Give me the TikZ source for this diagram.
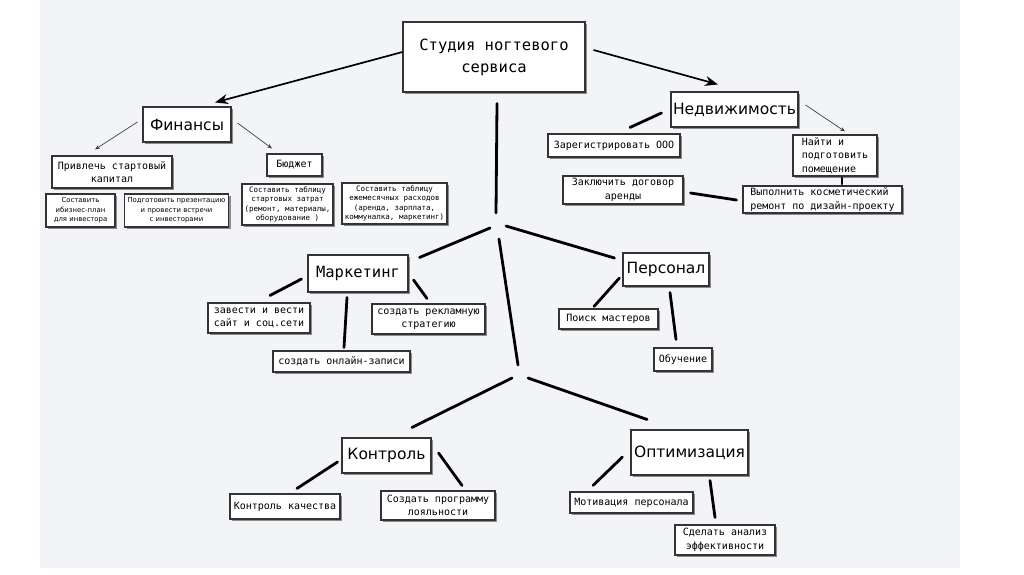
\documentclass[tikz,border=0pt]{standalone}
\usepackage{fontspec}
\setmainfont{DejaVu Sans}
\newfontfamily\monofam{DejaVu Sans Mono}
\usetikzlibrary{arrows.meta,shadows}
\definecolor{panel}{HTML}{F3F4F7}
\tikzset{
  box/.style={draw=black!80, line width=1.1pt, fill=white, inner sep=0pt, align=center,
    drop shadow={shadow xshift=2pt, shadow yshift=-2pt, fill=black!45, opacity=1}},
  hdr/.style={font=\fontsize{15.5}{18}\selectfont},
  hdrm/.style={font=\monofam\fontsize{15.5}{22}\selectfont},
  med/.style={font=\monofam\fontsize{10}{13.5}\selectfont},
  sml/.style={font=\fontsize{6.9}{9.4}\selectfont},
  smm/.style={font=\monofam\fontsize{7.5}{9.3}\selectfont},
  thk/.style={line width=2.8pt, black, line cap=round},
  bigarr/.style={line width=1.7pt, black, -{Stealth[length=13pt,width=10pt]}},
  thinarr/.style={line width=0.7pt, black!75, -{Stealth[length=5pt,width=4pt]}}
}
\begin{document}
\begin{tikzpicture}[x=1pt,y=-1pt]
\useasboundingbox (0,0) rectangle (1024,574);
\fill[white] (0,0) rectangle (1024,574);
\fill[panel] (40,0) rectangle (960,568);

% top
\node[box,hdrm,minimum width=182pt,minimum height=70pt] (studio) at (494,57) {Студия ногтевого\\сервиса};

% finances
\node[box,hdr,minimum width=88pt,minimum height=35pt] (fin) at (187,124.5) {Финансы};
\node[box,med,minimum width=120pt,minimum height=32pt] (kap) at (112,172) {Привлечь стартовый\\капитал};
\node[box,sml,minimum width=69pt,minimum height=33pt] (biz) at (80.5,210.5) {Составить\\ибизнес-план\\для инвестора};
\node[box,sml,minimum width=104pt,minimum height=33pt] (prez) at (176.5,210.5) {Подготовить презентацию\\и провести встречи\\с инвесторами};
\node[box,med,minimum width=55pt,minimum height=22pt] (bud) at (294.5,165) {Бюджет};
\node[box,smm,minimum width=91pt,minimum height=41pt] (zat) at (287.5,204.5) {Составить таблицу\\стартовых затрат\\(ремонт, материалы,\\оборудование )};
\node[box,smm,minimum width=105pt,minimum height=41pt] (mes) at (394.5,203.5) {Составить таблицу\\ежемесячных расходов\\(аренда, зарплата,\\коммуналка, маркетинг)};

% real estate
\node[box,hdr,minimum width=127pt,minimum height=35pt] (ned) at (734.5,109.5) {Недвижимость};
\node[box,med,minimum width=132pt,minimum height=23pt] (ooo) at (614,145.5) {Зарегистрировать ООО};
\node[box,med,minimum width=84pt,minimum height=41pt,align=left] (naiti) at (835,155.5) {Найти и\\подготовить\\помещение};
\node[box,med,minimum width=120pt,minimum height=28pt] (dog) at (623,190) {Заключить договор\\аренды};
\node[box,med,minimum width=159pt,minimum height=27pt,align=left] (rem) at (822.5,199.5) {Выполнить косметический\\ремонт по дизайн-проекту};

% marketing
\node[box,hdrm,minimum width=100pt,minimum height=37pt] (mark) at (358,273.5) {Маркетинг};
\node[box,med,minimum width=102pt,minimum height=30pt,align=left] (sait) at (259,318) {завести и вести\\сайт и соц.сети};
\node[box,med,minimum width=137pt,minimum height=21pt] (onl) at (341.5,361.5) {создать онлайн-записи};
\node[box,med,minimum width=113pt,minimum height=30pt] (rekl) at (428.5,319) {создать рекламную\\стратегию};

% personnel
\node[box,hdr,minimum width=86pt,minimum height=33pt] (pers) at (666,269.5) {Персонал};
\node[box,med,minimum width=99pt,minimum height=20pt] (poisk) at (608.5,319) {Поиск мастеров};
\node[box,med,minimum width=58pt,minimum height=23pt] (obuch) at (683,359.5) {Обучение};

% control
\node[box,hdr,minimum width=89pt,minimum height=35pt] (kontr) at (386.5,455.5) {Контроль};
\node[box,med,minimum width=110pt,minimum height=25pt] (kach) at (285,506.5) {Контроль качества};
\node[box,med,minimum width=114pt,minimum height=29pt] (loyal) at (438,505.5) {Создать программу\\лояльности};

% optimization
\node[box,hdr,minimum width=117pt,minimum height=45pt] (opt) at (689.5,452.5) {Оптимизация};
\node[box,med,minimum width=123pt,minimum height=21pt] (motiv) at (631.5,502.5) {Мотивация персонала};
\node[box,med,minimum width=100pt,minimum height=30pt] (analiz) at (725,540) {Сделать анализ\\эффективности};

% junctions
\coordinate (j1) at (496,222);
\coordinate (j2) at (520,372);

% arrows
\draw[bigarr] ([yshift=5pt]studio.west) -- ([shift={(28,-4)}]fin.north);
\draw[bigarr] ([shift={(8,-7)}]studio.east) -- ([shift={(-16.5,-7)}]ned.north);
\draw[thinarr] ([shift={(-5,-2.5)}]fin.west) -- ([shift={(-17,-6)}]kap.north);
\draw[thinarr] ([shift={(6,-1.5)}]fin.east) -- ([shift={(-22.5,-5)}]bud.north);
\draw[thinarr] ([shift={(7,-4.5)}]ned.east) -- ([shift={(10,-3)}]naiti.north);

% thick connectors
\draw[thk] ([shift={(-9,3.5)}]ned.west) -- ([shift={(16,-6)}]ooo.north);
\draw[thk] ([shift={(7,3)}]dog.east) -- ([shift={(-6,0.5)}]rem.west);
\draw[thk] ([shift={(7,1.5)}]naiti.south) -- ([shift={(19.5,-1.5)}]rem.north);
\draw[thk] ([shift={(3,11)}]studio.south) -- ([shift={(0,-9)}]j1);
\draw[thk] ([shift={(-6,6)}]j1) -- ([shift={(11,3)}]mark.north east);
\draw[thk] ([shift={(10,4)}]j1) -- ([shift={(-8,-11.5)}]pers.west);
\draw[thk] ([shift={(3,17)}]j1) -- ([shift={(-2,-7)}]j2);
\draw[thk] ([shift={(-8,6)}]j2) -- ([shift={(25.5,-10)}]kontr.north);
\draw[thk] ([shift={(8,6)}]j2) -- ([shift={(-42.5,-10)}]opt.north);
\draw[thk] ([shift={(-6,5.5)}]mark.west) -- ([shift={(11,-7)}]sait.north);
\draw[thk] ([shift={(-11,5)}]mark.south) -- ([shift={(2.5,-3)}]onl.north);
\draw[thk] ([shift={(5,6.5)}]mark.east) -- ([shift={(-1.5,-5)}]rekl.north);
\draw[thk] ([shift={(-3,8.5)}]pers.west) -- ([shift={(-14.5,-2)}]poisk.north);
\draw[thk] ([shift={(4,6)}]pers.south) -- ([shift={(-7,-8)}]obuch.north);
\draw[thk] ([shift={(-4,6.5)}]kontr.west) -- ([shift={(12,-5)}]kach.north);
\draw[thk] ([shift={(7,-2.5)}]kontr.east) -- ([shift={(24,-5)}]loyal.north);
\draw[thk] ([shift={(-8,4.5)}]opt.west) -- ([shift={(-38.5,-6)}]motiv.north);
\draw[thk] ([shift={(20.5,5)}]opt.south) -- ([shift={(-10,-7)}]analiz.north);
\end{tikzpicture}
\end{document}
